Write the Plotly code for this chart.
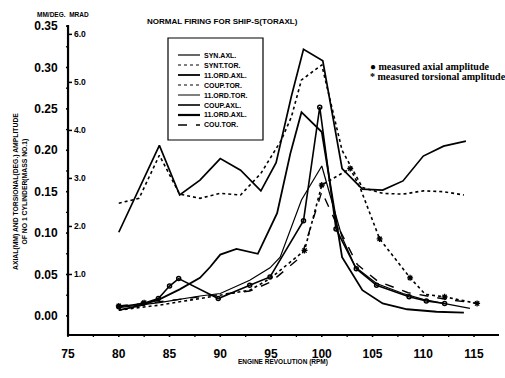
import plotly.graph_objects as go

# ---------------- data ----------------
syn_axl_rpm = [80, 84, 86, 88, 90, 92, 94, 95.5, 97, 98.2, 100.1, 102, 104, 106, 108, 110, 112, 114.2]
syn_axl_amp = [0.101, 0.206, 0.146, 0.164, 0.190, 0.176, 0.151, 0.185, 0.265, 0.322, 0.308, 0.178, 0.153, 0.152, 0.163, 0.193, 0.205, 0.211]

synt_tor_rpm = [80, 82, 84, 86, 88, 90, 92, 94, 96, 97, 98, 100, 102, 104, 106, 108, 110, 112, 114]
synt_tor_amp = [0.136, 0.142, 0.194, 0.147, 0.142, 0.148, 0.146, 0.172, 0.212, 0.240, 0.285, 0.303, 0.200, 0.155, 0.148, 0.147, 0.151, 0.150, 0.146]

ord11_axl_rpm = [80, 82, 84, 86, 88, 89, 90, 91.6, 93.7, 95.6, 96.9, 98, 100, 102, 104, 106, 108.4, 111.3, 114]
ord11_axl_amp = [0.007, 0.012, 0.020, 0.032, 0.046, 0.059, 0.074, 0.081, 0.075, 0.124, 0.196, 0.246, 0.222, 0.071, 0.031, 0.015, 0.008, 0.005, 0.004]

coup_tor_rpm = [80, 84, 88, 90, 92.9, 94.9, 98.3, 100, 102.8, 103.8, 105.7, 108.7, 110.2, 112.1, 115.3]
coup_tor_amp = [0.007, 0.013, 0.021, 0.025, 0.031, 0.045, 0.079, 0.158, 0.178, 0.154, 0.093, 0.046, 0.026, 0.023, 0.015]

ord11_tor_rpm = [80, 84, 88, 90, 92.9, 94.9, 95.9, 98, 100, 102, 103.3, 105.4, 108, 110, 112, 114.6]
ord11_tor_amp = [0.010, 0.016, 0.024, 0.027, 0.043, 0.058, 0.071, 0.140, 0.181, 0.095, 0.059, 0.039, 0.027, 0.020, 0.015, 0.009]

cou_tor_rpm = [80, 84, 88, 90, 92.9, 95, 98, 100, 101.5, 103.5, 105.5, 108.5, 110.5, 112.3, 115.3]
cou_tor_amp = [0.012, 0.017, 0.023, 0.026, 0.030, 0.041, 0.072, 0.150, 0.110, 0.062, 0.042, 0.028, 0.024, 0.020, 0.015]

meas_axial_rpm = [80, 82.4, 83.9, 85, 85.9, 89.8, 92.9, 94.9, 98.2, 99.8, 101.4, 103.4, 105.4, 108.6, 110.3, 112.1]
meas_axial_amp = [0.011, 0.015, 0.021, 0.036, 0.045, 0.021, 0.037, 0.047, 0.115, 0.252, 0.105, 0.057, 0.037, 0.023, 0.018, 0.015]

meas_tors_rpm = [80, 82.5, 98.3, 100, 102.8, 105.7, 108.7, 112.1, 115.3]
meas_tors_amp = [0.012, 0.016, 0.079, 0.158, 0.178, 0.093, 0.046, 0.023, 0.015]

# axis ranges and tick values
x_range = [74.8, 117.46]
y_range = [-0.0255, 0.3513]
x_major = [75, 80, 85, 90, 95, 100, 105, 110, 115]
x_minor = [77.5, 82.5, 87.5, 92.5, 97.5, 102.5, 107.5, 112.5]
y_major = [0.00, 0.05, 0.10, 0.15, 0.20, 0.25, 0.30, 0.35]
y_minor = [0.025, 0.075, 0.125, 0.175, 0.225, 0.275, 0.325]

# secondary scale (MRAD) and its position on the left (mm) scale
mrad_ticks = [1.0, 2.0, 3.0, 4.0, 5.0, 6.0]
mrad_zero_mm = -0.0080     # left-scale value where 0 MRAD would sit
mm_per_mrad = 0.0580       # left-scale units per 1 MRAD

legend_labels = ["SYN.AXL.", "SYNT.TOR.", "11.ORD.AXL.", "COUP.TOR.",
                 "11.ORD.TOR.", "COUP.AXL.", "11.ORD.AXL.", "COU.TOR."]
legend_dash = ["solid", "dot", "solid", "dot", "solid", "solid", "solid", "dash"]
legend_width = [1.2, 1.2, 1.8, 1.2, 1.0, 1.6, 2.2, 1.6]

# ---------------- figure ----------------
FONT = "Liberation Sans, Arial, sans-serif"
W, H, L, T = 433.0, 312.0, 66.0, 25.0
dx = (x_range[1] - x_range[0]) / W   # data units per pixel
dy = (y_range[1] - y_range[0]) / H

fig = go.Figure()

def line(x, y, dash, width):
    fig.add_trace(go.Scatter(x=x, y=y, mode="lines", showlegend=False,
                             line=dict(color="black", width=width, dash=dash)))

line(syn_axl_rpm, syn_axl_amp, "solid", 1.7)
line(synt_tor_rpm, synt_tor_amp, "dot", 1.6)
line(ord11_axl_rpm, ord11_axl_amp, "solid", 1.8)
line(coup_tor_rpm, coup_tor_amp, "dot", 1.6)
line(ord11_tor_rpm, ord11_tor_amp, "solid", 1.2)
line(cou_tor_rpm, cou_tor_amp, "dash", 1.4)
line(meas_axial_rpm, meas_axial_amp, "solid", 1.6)

fig.add_trace(go.Scatter(x=meas_axial_rpm, y=meas_axial_amp, mode="markers", showlegend=False,
                         marker=dict(symbol="circle-open", size=4, color="black", line=dict(width=1.5))))
fig.add_trace(go.Scatter(x=meas_tors_rpm, y=meas_tors_amp, mode="markers", showlegend=False,
                         marker=dict(symbol="asterisk-open", size=5, color="black", line=dict(width=1.3))))

# ---- axis frame (left + bottom) at 75 RPM / bottom of the range, with tick marks ----
ax_x = x_major[0]
ax_y = y_range[0] + 2 * dy
fig.add_trace(go.Scatter(x=[ax_x, ax_x, x_range[1]], y=[y_range[1], ax_y, ax_y], mode="lines",
                         showlegend=False, hoverinfo="skip", cliponaxis=False,
                         line=dict(color="black", width=2.2)))

def seg_trace(xs, ys, width):
    fig.add_trace(go.Scatter(x=xs, y=ys, mode="lines", showlegend=False, hoverinfo="skip",
                             cliponaxis=False, line=dict(color="black", width=width)))

xs, ys = [], []
for v in x_major:
    xs += [v, v, None]; ys += [ax_y, ax_y - 4 * dy, None]
seg_trace(xs, ys, 1.6)
xs, ys = [], []
for v in x_minor:
    xs += [v, v, None]; ys += [ax_y, ax_y - 3 * dy, None]
seg_trace(xs, ys, 1.3)
xs, ys = [], []
for v in y_major:
    xs += [ax_x, ax_x - 5 * dx, None]; ys += [v, v, None]
seg_trace(xs, ys, 1.6)
xs, ys = [], []
for v in y_minor:
    xs += [ax_x, ax_x - 3 * dx, None]; ys += [v, v, None]
seg_trace(xs, ys, 1.3)
xs, ys = [], []
for v in mrad_ticks:
    ymm = mrad_zero_mm + v * mm_per_mrad
    xs += [ax_x, ax_x + 4 * dx, None]; ys += [ymm, ymm, None]
seg_trace(xs, ys, 1.5)

fig.update_layout(
    width=505, height=378,
    margin=dict(l=66, r=6, t=25, b=41),
    paper_bgcolor="white", plot_bgcolor="white",
    font=dict(family=FONT, color="black"),
    xaxis=dict(range=x_range, tickmode="array", tickvals=x_major,
               showgrid=False, zeroline=False, showline=False,
               ticks="outside", ticklen=6, tickwidth=1, tickcolor="white",
               tickfont=dict(size=12, family=FONT, weight="bold")),
    yaxis=dict(range=y_range, tickmode="array", tickvals=y_major,
               tickformat=".2f", showgrid=False, zeroline=False, showline=False,
               ticks="outside", ticklen=5, tickwidth=1, tickcolor="white",
               tickfont=dict(size=12, family=FONT, weight="bold")),
)

# MRAD labels on the inside of the left axis
for v in mrad_ticks:
    fig.add_annotation(xref="x", yref="y", x=ax_x, y=mrad_zero_mm + v * mm_per_mrad,
                       text=f"{v:.1f}", showarrow=False, xanchor="left", yanchor="middle",
                       xshift=4, font=dict(size=8.5, family=FONT, weight="bold"))

# ---------------- manual legend (box with line samples) ----------------
def px(xp):
    return (xp - L) / W
def py(yp):
    return (T + H - yp) / H

fig.add_shape(type="rect", xref="paper", yref="paper",
              x0=px(168), x1=px(263), y0=py(140), y1=py(38),
              line=dict(color="black", width=1.2), fillcolor="white", layer="above")
row0, step = 55.0, 10.0
for i, lab in enumerate(legend_labels):
    yy = row0 + i * step
    fig.add_shape(type="line", xref="paper", yref="paper",
                  x0=px(178), x1=px(200), y0=py(yy), y1=py(yy),
                  line=dict(color="black", width=legend_width[i], dash=legend_dash[i]),
                  layer="above")
    fig.add_annotation(xref="paper", yref="paper", x=px(202), y=py(yy),
                       text=lab, showarrow=False, xanchor="left", yanchor="middle",
                       font=dict(size=7, family=FONT, weight="bold"))

# measured legend (right)
fig.add_annotation(xref="paper", yref="paper", x=px(368), y=py(67),
                   text="\u25cf measured axial amplitude", showarrow=False,
                   xanchor="left", yanchor="middle",
                   font=dict(size=10, family="Liberation Serif, serif", weight="bold"))
fig.add_annotation(xref="paper", yref="paper", x=px(368), y=py(77),
                   text="* measured torsional amplitude", showarrow=False,
                   xanchor="left", yanchor="middle",
                   font=dict(size=10, family="Liberation Serif, serif", weight="bold"))

# title and labels
fig.add_annotation(xref="paper", yref="paper", x=px(222), y=py(21),
                   text="NORMAL FIRING FOR SHIP-S(TORAXL)", showarrow=False,
                   xanchor="center", yanchor="middle",
                   font=dict(size=8, family=FONT, weight="bold"))
fig.add_annotation(xref="paper", yref="paper", x=px(35), y=py(15),
                   text="MM/DEG.  MRAD", showarrow=False,
                   xanchor="left", yanchor="middle",
                   font=dict(size=6.5, family=FONT, weight="bold"))
fig.add_annotation(xref="paper", yref="paper", x=px(283), y=py(362),
                   text="ENGINE REVOLUTION (RPM)", showarrow=False,
                   xanchor="center", yanchor="middle",
                   font=dict(size=6.5, family=FONT, weight="bold"))
fig.add_annotation(xref="paper", yref="paper", x=px(20), y=py(192),
                   text="AXIAL(MM) AND TORSIONAL(DEG.) AMPLITUDE<br>OF NO 1 CYLINDER(MASS NO.1)",
                   showarrow=False, textangle=-90, xanchor="center", yanchor="middle",
                   font=dict(size=6.8, family=FONT, weight="bold"))

fig.write_html("out.html")
